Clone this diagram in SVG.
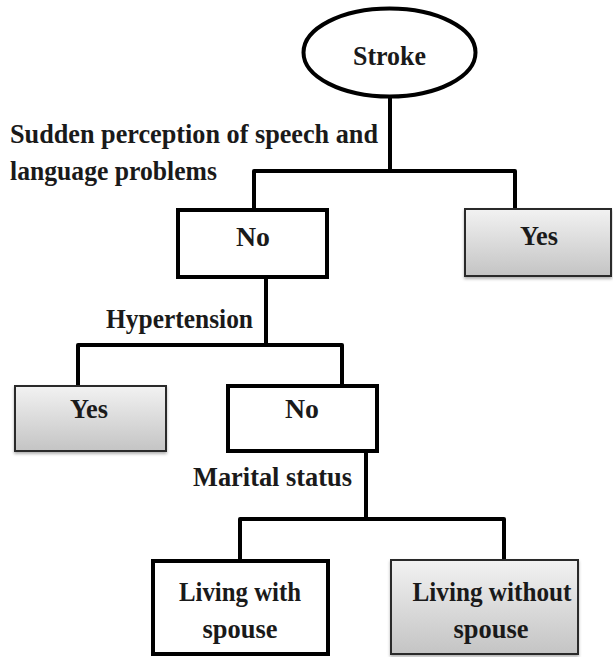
<svg xmlns="http://www.w3.org/2000/svg" width="613" height="657" viewBox="0 0 613 657">
<style>
.t{font-family:"Liberation Serif","Times New Roman",serif;font-weight:bold;font-size:28px;fill:#1a1a1a}
.m{text-anchor:middle}
.wb{fill:#fff;stroke:#000;stroke-width:4}
.gb{fill:url(#g);stroke:#2a2a2a;stroke-width:2;filter:url(#sh)}
.c{fill:none;stroke:#000;stroke-width:4;stroke-linejoin:round}
</style>
<defs>
<linearGradient id="g" x1="0" y1="0" x2="0" y2="1">
<stop offset="0" stop-color="#f2f2f2"/>
<stop offset="1" stop-color="#c4c4c4"/>
</linearGradient>
<filter id="sh" x="-10%" y="-10%" width="120%" height="130%">
<feDropShadow dx="0" dy="2" stdDeviation="1.5" flood-color="#000" flood-opacity="0.3"/>
</filter>
</defs>
<g id="connectors">
<path class="c" d="M390,98 V171 M254,210 V171 H515 V209"/>
<path class="c" d="M266,277 V345 M78,386 V345 H342 V386"/>
<path class="c" d="M366,451 V519 M240,561 V519 H504 V560"/>
</g>
<g id="stroke">
<ellipse cx="389.5" cy="52.5" rx="86" ry="44" fill="#fff" stroke="#000" stroke-width="4"/>
<text class="t m" x="389.5" y="65" textLength="73" lengthAdjust="spacingAndGlyphs">Stroke</text>
</g>
<g id="label-speech">
<text class="t" x="10" y="143" textLength="368" lengthAdjust="spacingAndGlyphs">Sudden perception of speech and</text>
<text class="t" x="10" y="180" textLength="207" lengthAdjust="spacingAndGlyphs">language problems</text>
</g>
<g id="no1">
<rect class="wb" x="178" y="210" width="149" height="67"/>
<text class="t m" x="253" y="246" textLength="34" lengthAdjust="spacingAndGlyphs">No</text>
</g>
<g id="yes1">
<rect class="gb" x="465" y="209" width="146" height="67"/>
<text class="t m" x="539" y="245" textLength="38" lengthAdjust="spacingAndGlyphs">Yes</text>
</g>
<g id="label-hypertension">
<text class="t" x="106" y="328" textLength="147" lengthAdjust="spacingAndGlyphs">Hypertension</text>
</g>
<g id="yes2">
<rect class="gb" x="15" y="386" width="151" height="65"/>
<text class="t m" x="89" y="418" textLength="38" lengthAdjust="spacingAndGlyphs">Yes</text>
</g>
<g id="no2">
<rect class="wb" x="228" y="386" width="149" height="65"/>
<text class="t m" x="302" y="418" textLength="34" lengthAdjust="spacingAndGlyphs">No</text>
</g>
<g id="label-marital">
<text class="t" x="193" y="486" textLength="159" lengthAdjust="spacingAndGlyphs">Marital status</text>
</g>
<g id="living-with">
<rect class="wb" x="153" y="561" width="175" height="93"/>
<text class="t m" x="240" y="601" textLength="122" lengthAdjust="spacingAndGlyphs">Living with</text>
<text class="t m" x="240" y="638" textLength="75" lengthAdjust="spacingAndGlyphs">spouse</text>
</g>
<g id="living-without">
<rect class="gb" x="391" y="560" width="187" height="94"/>
<text class="t m" x="492" y="601" textLength="159" lengthAdjust="spacingAndGlyphs">Living without</text>
<text class="t m" x="491" y="638" textLength="75" lengthAdjust="spacingAndGlyphs">spouse</text>
</g>
</svg>
